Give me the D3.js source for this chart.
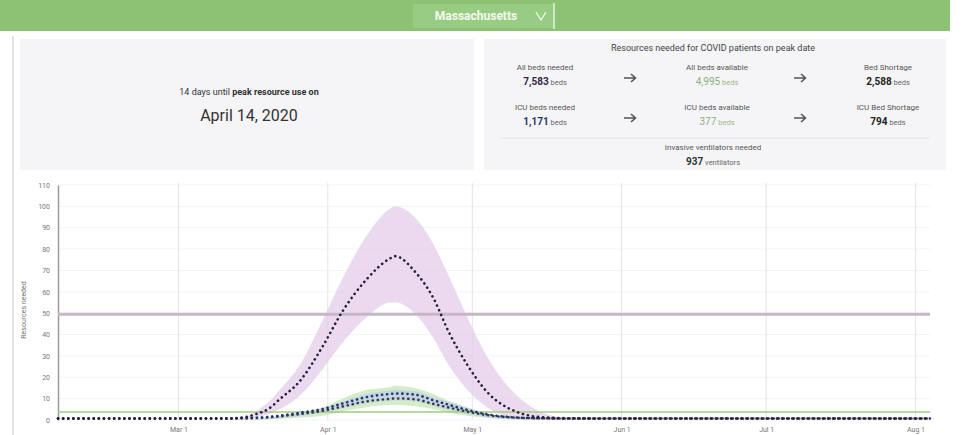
<!DOCTYPE html>
<html>
<head>
<meta charset="utf-8">
<script src="https://cdn.jsdelivr.net/npm/d3@7"></script>
<style>
  body { margin: 0; background: #fff; font-family: Roboto, "Open Sans", sans-serif; }
  svg { display: block; }
</style>
</head>
<body>
<svg id="graph" width="962" height="435"></svg>
<script>
// model output (units = hundreds of beds)
const dates = ["2020-02-05","2020-03-10","2020-03-14","2020-03-17","2020-03-20","2020-03-22","2020-03-26",
  "2020-03-31","2020-04-04","2020-04-09","2020-04-14","2020-04-15","2020-04-19","2020-04-23","2020-04-26",
  "2020-04-30","2020-05-04","2020-05-10","2020-05-16","2020-05-22","2020-06-01","2020-08-04"];

const allBeds      = [0, 0, 0.4, 2, 5, 9, 17, 34, 50, 65, 75, 76, 69, 56, 41, 25, 12.6, 3.3, 0.5, 0.1, 0, 0];
const allBedsUpper = [0, 0, 0.8, 4, 9, 14, 25, 47, 66, 86, 99, 100, 95, 82, 68, 48, 30, 12, 3, 0.5, 0, 0];
const allBedsLower = [0, 0, 0.2, 1, 3, 5, 11, 24, 36, 48, 55, 55, 50, 38, 26, 14, 6, 1, 0, 0, 0, 0];

const icuBeds      = [0, 0, 0.1, 0.3, 0.8, 1.3, 2.6, 4.5, 7, 10, 11.5, 11.7, 11.2, 8.5, 6.5, 4, 2, 0.5, 0.1, 0, 0, 0];
const icuBedsUpper = [0, 0, 0.2, 0.5, 1.1, 1.7, 3.3, 5.5, 8.5, 12, 13.8, 14, 13.5, 10.5, 8.5, 5.5, 3, 1, 0.2, 0, 0, 0];
const icuBedsLower = [0, 0, 0.1, 0.2, 0.5, 0.9, 1.8, 3.4, 5.4, 7.8, 9, 9.2, 8.8, 6.6, 4.8, 2.8, 1.2, 0.3, 0, 0, 0, 0];

const vents      = [0, 0, 0.1, 0.2, 0.6, 1, 2, 3.6, 5.6, 8, 9.2, 9.4, 9, 6.8, 5.2, 3.2, 1.6, 0.4, 0.1, 0, 0, 0];
const ventsUpper = [0, 0, 0.2, 0.5, 1.2, 2, 3.5, 6, 10, 14, 15.5, 16, 15, 12, 9, 6, 3, 1, 0.2, 0, 0, 0];
const ventsLower = [0, 0, 0, 0.1, 0.3, 0.5, 1, 2, 4, 6, 7, 7, 6.5, 5, 3.5, 2, 1, 0.2, 0, 0, 0, 0];

const allBedsAvailable = 49.5;
const icuBedsAvailable = 3.77;

const yTicks = [0, 10, 20, 30, 40, 50, 60, 70, 80, 90, 100, 110];
const xTicks = ["2020-03-01","2020-04-01","2020-05-01","2020-06-01","2020-07-01","2020-08-01"];

const parse = d3.timeParse("%Y-%m-%d");
const svg = d3.select("#graph");

// ---------- header bar ----------
svg.append("rect").attr("x", 0).attr("y", 0).attr("width", 950).attr("height", 31).attr("fill", "#8dc275");
svg.append("rect").attr("x", 413).attr("y", 4).attr("width", 140).attr("height", 24).attr("fill", "#99cc83");
svg.append("line").attr("x1", 554).attr("x2", 554).attr("y1", 3).attr("y2", 29)
    .attr("stroke", "#e6f3df").attr("stroke-width", 1.5);
svg.append("text").attr("x", 476).attr("y", 20).attr("text-anchor", "middle")
    .attr("fill", "#f4faef").attr("font-size", 12).attr("font-weight", "bold")
    .text("Massachusetts");
svg.append("path").attr("d", "M536,12 L541,20 L546,12")
    .attr("fill", "none").attr("stroke", "#f4faef").attr("stroke-width", 1.2);

// container left border
svg.append("line").attr("x1", 13).attr("x2", 13).attr("y1", 36).attr("y2", 435)
    .attr("stroke", "#e3e3e3").attr("stroke-width", 2);

// ---------- left panel ----------
svg.append("rect").attr("x", 20).attr("y", 39).attr("width", 454).attr("height", 131).attr("fill", "#f5f5f8");
const lt = svg.append("text").attr("x", 249).attr("y", 95).attr("text-anchor", "middle")
    .attr("font-size", 9).attr("fill", "#333");
lt.append("tspan").text("14 days until ");
lt.append("tspan").attr("font-weight", "bold").text("peak resource use on");
svg.append("text").attr("x", 249).attr("y", 121).attr("text-anchor", "middle")
    .attr("font-size", 16).attr("fill", "#333").text("April 14, 2020");

// ---------- right panel ----------
svg.append("rect").attr("x", 484).attr("y", 39).attr("width", 462).attr("height", 131).attr("fill", "#f5f5f8");
svg.append("text").attr("x", 713).attr("y", 51).attr("text-anchor", "middle")
    .attr("font-size", 9).attr("fill", "#444").text("Resources needed for COVID patients on peak date");

const cells = [
  { x: 545, y: 70, label: "All beds needed", value: "7,583", unit: "beds", color: "#3b2347" },
  { x: 717, y: 70, label: "All beds available", value: "4,995", unit: "beds", color: "#8fae7c", light: true },
  { x: 888, y: 70, label: "Bed Shortage", value: "2,588", unit: "beds", color: "#222" },
  { x: 545, y: 110, label: "ICU beds needed", value: "1,171", unit: "beds", color: "#1f3a5f" },
  { x: 717, y: 110, label: "ICU beds available", value: "377", unit: "beds", color: "#8fae7c", light: true },
  { x: 888, y: 110, label: "ICU Bed Shortage", value: "794", unit: "beds", color: "#222" },
  { x: 713, y: 150, label: "Invasive ventilators needed", value: "937", unit: "ventilators", color: "#333" }
];
cells.forEach(c => {
  svg.append("text").attr("x", c.x).attr("y", c.y).attr("text-anchor", "middle")
      .attr("font-size", 8).attr("fill", "#555").text(c.label);
  const v = svg.append("text").attr("x", c.x).attr("y", c.y + 15).attr("text-anchor", "middle")
      .attr("font-size", 9);
  v.append("tspan").attr("font-weight", c.light ? "normal" : "bold").attr("font-size", 10)
      .attr("fill", c.color).text(c.value);
  v.append("tspan").attr("fill", c.light ? "#9ab98a" : "#666").attr("font-size", 7.5).text(" " + c.unit);
});
// arrows between cells
[[630, 78], [800, 78], [630, 118], [800, 118]].forEach(([ax, ay]) => {
  svg.append("path")
      .attr("d", `M${ax - 6},${ay} L${ax + 5},${ay} M${ax + 1},${ay - 4} L${ax + 5.5},${ay} L${ax + 1},${ay + 4}`)
      .attr("fill", "none").attr("stroke", "#555").attr("stroke-width", 1.6);
});
svg.append("line").attr("x1", 500).attr("x2", 930).attr("y1", 138).attr("y2", 138)
    .attr("stroke", "#e6e6ea").attr("stroke-width", 1);

// ---------- chart ----------
const margin = { left: 58, right: 32, top: 185, bottom: 15 };
const x = d3.scaleTime()
    .domain([parse("2020-02-05"), parse("2020-08-04")])
    .range([margin.left, 962 - margin.right]);
const y = d3.scaleLinear().domain([0, 110]).range([420, margin.top]);

const g = svg.append("g");

// grid
g.selectAll(".hgrid").data(yTicks).enter().append("line")
    .attr("x1", margin.left).attr("x2", 930)
    .attr("y1", d => y(d)).attr("y2", d => y(d))
    .attr("stroke", "#f4f4f4");
g.selectAll(".vgrid").data(xTicks).enter().append("line")
    .attr("x1", d => x(parse(d))).attr("x2", d => x(parse(d)))
    .attr("y1", 183).attr("y2", 420)
    .attr("stroke", "#e4e4e4");

// y axis
const yAxis = g.append("g").attr("transform", `translate(${margin.left},0)`)
    .call(d3.axisLeft(y).tickValues(yTicks).tickSize(0).tickPadding(8));
yAxis.select(".domain").attr("stroke", "#9a9a9a").attr("stroke-width", 1.5);
yAxis.selectAll("text").attr("font-size", 7).attr("fill", "#777").attr("font-family", "Roboto, sans-serif");

svg.append("text").attr("transform", "rotate(-90)")
    .attr("x", -310).attr("y", 26).attr("text-anchor", "middle")
    .attr("font-size", 7).attr("fill", "#777").text("Resources needed");

// x axis labels
const xAxis = g.append("g").attr("transform", "translate(0,421)")
    .call(d3.axisBottom(x).tickValues(xTicks.map(parse)).tickFormat(d3.timeFormat("%b %-d")).tickSize(0).tickPadding(6));
xAxis.select(".domain").remove();
xAxis.selectAll("text").attr("font-size", 7).attr("fill", "#777").attr("font-family", "Roboto, sans-serif");

// bands
function band(upper, lower, fill, op) {
  const data = dates.map((d, i) => ({ date: parse(d), hi: upper[i], lo: lower[i] }));
  g.append("path").datum(data)
      .attr("d", d3.area().curve(d3.curveMonotoneX)
          .x(d => x(d.date)).y0(d => y(d.lo)).y1(d => y(d.hi)))
      .attr("fill", fill).attr("opacity", op);
}
band(ventsUpper, ventsLower, "#c6e6b4", 0.75);
band(icuBedsUpper, icuBedsLower, "#bccbee", 0.7);
band(allBedsUpper, allBedsLower, "#e3cbe8", 0.7);

// capacity lines
g.append("line").attr("x1", margin.left).attr("x2", 930)
    .attr("y1", y(allBedsAvailable)).attr("y2", y(allBedsAvailable))
    .attr("stroke", "#c7b6c8").attr("stroke-width", 3);
g.append("line").attr("x1", margin.left).attr("x2", 930)
    .attr("y1", y(icuBedsAvailable)).attr("y2", y(icuBedsAvailable))
    .attr("stroke", "#9ecb86").attr("stroke-width", 1.5);

// dotted mean lines
function dotted(vals, color) {
  const data = dates.map((d, i) => ({ date: parse(d), v: vals[i] }));
  g.append("path").datum(data)
      .attr("d", d3.line().curve(d3.curveMonotoneX).x(d => x(d.date)).y(d => y(d.v) - 1.5))
      .attr("fill", "none").attr("stroke", color).attr("stroke-width", 2.6)
      .attr("stroke-linecap", "round").attr("stroke-dasharray", "0.1,5");
}
dotted(vents, "#3a3a3a");
dotted(icuBeds, "#23346e");
dotted(allBeds, "#2b1d3a");
</script>
</body>
</html>
